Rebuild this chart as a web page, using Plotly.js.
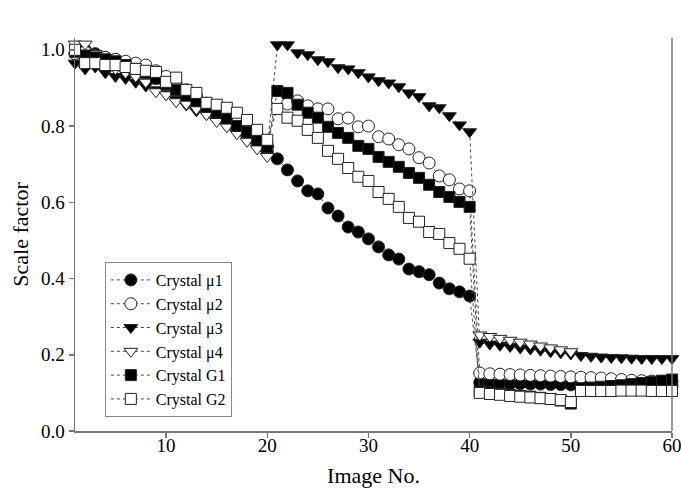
<!DOCTYPE html>
<html>
<head>
<meta charset="utf-8">
<script src="https://cdn.plot.ly/plotly-3.0.1.min.js"></script>
<style>html,body{margin:0;padding:0;background:#fff;}#chart{width:681px;height:488px;}</style>
</head>
<body>
<div id="chart"></div>
<script>
const images = [1,2,3,4,5,6,7,8,9,10,11,12,13,14,15,16,17,18,19,20,
  21,22,23,24,25,26,27,28,29,30,31,32,33,34,35,36,37,38,39,40,
  41,42,43,44,45,46,47,48,49,50,51,52,53,54,55,56,57,58,59,60];

const mu1 = [0.99,1.00,0.99,0.98,0.975,0.965,0.955,0.94,0.925,0.91,0.895,0.88,0.865,0.845,0.83,0.815,0.795,0.775,0.755,0.732,
  0.714,0.685,0.656,0.63,0.622,0.585,0.564,0.535,0.522,0.504,0.483,0.462,0.451,0.425,0.418,0.41,0.388,0.373,0.365,0.354,
  0.127,0.126,0.125,0.124,0.124,0.123,0.123,0.122,0.122,0.121,0.121,0.12,0.12,0.119,0.119,0.118,0.118,0.118,0.118,0.118];
const mu2 = [0.99,0.995,0.985,0.98,0.975,0.97,0.965,0.96,0.945,0.93,0.91,0.895,0.88,0.86,0.845,0.83,0.81,0.79,0.77,0.745,
  0.869,0.858,0.866,0.853,0.845,0.845,0.819,0.821,0.798,0.80,0.772,0.766,0.751,0.74,0.717,0.703,0.669,0.659,0.635,0.63,
  0.152,0.15,0.149,0.148,0.147,0.146,0.145,0.144,0.143,0.142,0.141,0.14,0.139,0.137,0.135,0.133,0.132,0.131,0.13,0.13];
const mu3 = [0.965,0.95,0.955,0.94,0.93,0.925,0.915,0.905,0.895,0.885,0.87,0.855,0.84,0.83,0.815,0.80,0.79,0.77,0.75,0.74,
  1.013,1.013,0.992,0.987,0.974,0.969,0.953,0.95,0.94,0.929,0.919,0.913,0.903,0.887,0.877,0.853,0.848,0.827,0.803,0.785,
  0.233,0.228,0.225,0.222,0.218,0.215,0.212,0.208,0.205,0.202,0.198,0.196,0.194,0.193,0.192,0.191,0.19,0.19,0.19,0.19];
const mu4 = [1.015,1.015,0.99,0.965,0.95,0.94,0.93,0.915,0.89,0.882,0.864,0.858,0.845,0.83,0.812,0.798,0.78,0.76,0.74,0.72,
  null,null,null,null,null,null,null,null,null,null,null,null,null,null,null,null,null,null,null,null,
  0.252,0.248,0.243,0.238,0.233,0.228,0.223,0.218,0.213,0.208,null,null,null,null,null,null,null,null,null,null];
const g1 = [0.995,0.985,0.98,0.975,0.97,0.96,0.95,0.94,0.925,0.91,0.895,0.88,0.865,0.85,0.835,0.82,0.80,0.785,0.77,0.745,
  0.892,0.887,0.856,0.835,0.822,0.798,0.782,0.769,0.748,0.74,0.719,0.706,0.693,0.677,0.664,0.646,0.627,0.614,0.601,0.588,
  0.105,0.102,0.098,0.095,0.092,0.09,0.087,0.084,0.08,0.072,0.112,0.114,0.116,0.118,0.12,0.123,0.126,0.129,0.132,0.135];
const g2 = [1.0,0.965,0.965,0.96,0.96,0.955,0.95,0.945,0.942,0.916,0.927,0.895,0.887,0.861,0.856,0.848,0.835,0.816,0.79,0.764,
  0.845,0.822,0.814,0.79,0.769,0.735,0.714,0.69,0.667,0.656,0.627,0.609,0.588,0.559,0.549,0.522,0.517,0.493,0.478,0.452,
  0.10,0.097,0.095,0.092,0.09,0.088,0.086,0.084,0.081,0.076,0.105,0.105,0.105,0.105,0.106,0.106,0.106,0.105,0.105,0.105];

const seriesNames = ['Crystal \u03bc1','Crystal \u03bc2','Crystal \u03bc3','Crystal \u03bc4','Crystal G1','Crystal G2'];
const seriesValues = [mu1, mu2, mu3, mu4, g1, g2];
const symbols = ['circle','circle','triangle-down','triangle-down','square','square'];
const fills = ['#000','#fff','#000','#fff','#000','#fff'];
const sizes = [12,12,12,12,11,11];

const traces = seriesValues.map((vals, i) => ({
  x: images, y: vals, name: seriesNames[i], type: 'scatter', mode: 'lines+markers',
  connectgaps: false, cliponaxis: false,
  line: {color: '#444', width: 1, dash: 'dot'},
  marker: {symbol: symbols[i], size: sizes[i], color: fills[i], line: {color: '#222', width: 1}}
}));

const font = {family: '"Liberation Serif", "Times New Roman", serif', color: '#000'};
const layout = {
  width: 681, height: 488,
  margin: {l: 75, r: 9, t: 38, b: 57},
  paper_bgcolor: '#fff', plot_bgcolor: '#fff',
  showlegend: true,
  font: Object.assign({size: 18}, font),
  xaxis: {
    range: [1, 60], tickvals: [10,20,30,40,50,60], ticktext: ['10','20','30','40','50','60'],
    showgrid: false, zeroline: false, showline: true, linecolor: '#777', linewidth: 1.5,
    ticks: 'outside', ticklen: 5, tickcolor: '#777', tickwidth: 1.5,
    ticklabelstandoff: -8, ticklabeloverflow: 'allow',
    tickfont: Object.assign({size: 19}, font),
    title: {text: 'Image No.', font: Object.assign({size: 22}, font), standoff: 14}
  },
  yaxis: {
    range: [0, 1.031], tickvals: [0,0.2,0.4,0.6,0.8,1.0], ticktext: ['0.0','0.2','0.4','0.6','0.8','1.0'],
    showgrid: false, zeroline: false, showline: true, linecolor: '#777', linewidth: 1.5,
    ticks: 'outside', ticklen: 5, tickcolor: '#777', tickwidth: 1.5,
    tickfont: Object.assign({size: 19}, font),
    title: {text: 'Scale factor', font: Object.assign({size: 22}, font), standoff: 6}
  },
  shapes: [{type: 'line', xref: 'paper', yref: 'paper', x0: 1, x1: 1, y0: 0, y1: 1, line: {color: '#777', width: 1.5}}],
  legend: {
    x: 0.05, y: 0.43, xanchor: 'left', yanchor: 'top',
    bordercolor: '#888', borderwidth: 1, bgcolor: '#fff',
    font: Object.assign({size: 16}, font), tracegroupgap: 0, itemwidth: 40
  }
};

Plotly.newPlot('chart', traces, layout, {displayModeBar: false, staticPlot: true});
</script>
</body>
</html>
